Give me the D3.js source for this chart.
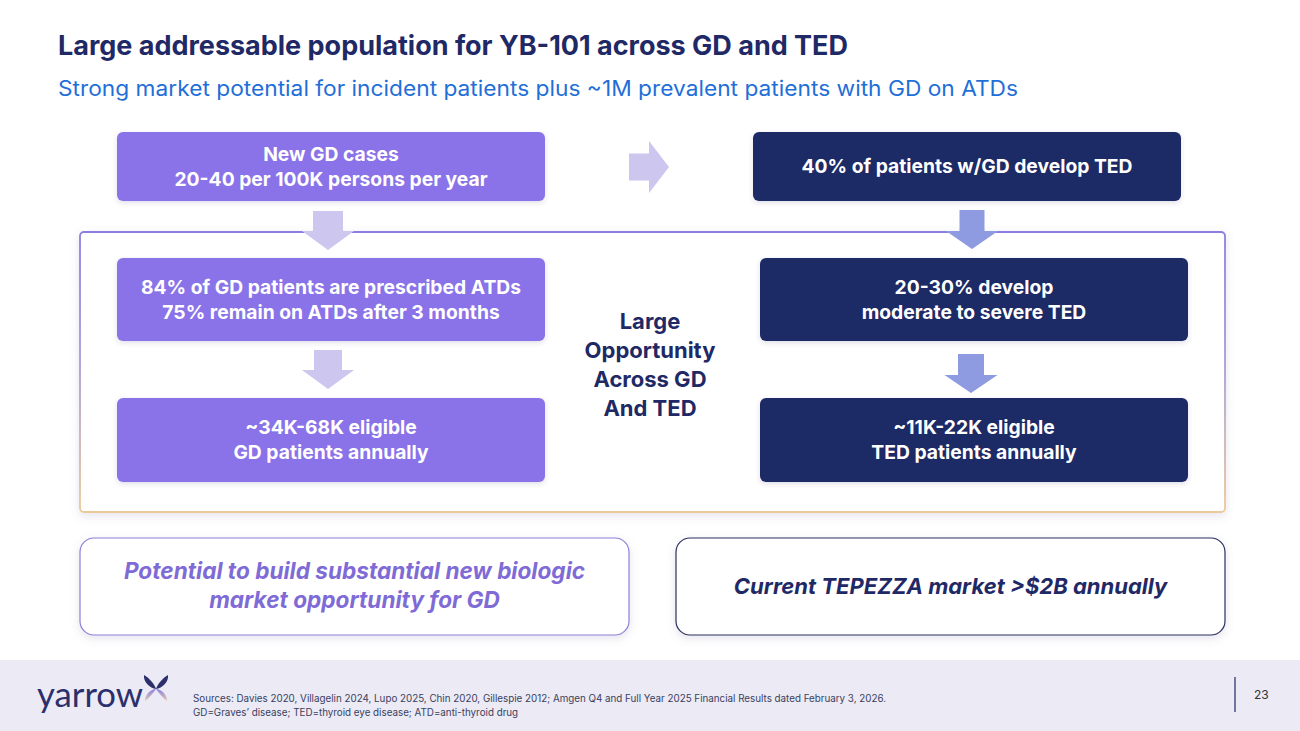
<!DOCTYPE html>
<html>
<head>
<meta charset="utf-8">
<script src="https://cdn.jsdelivr.net/npm/d3@7"></script>
<style>
  html, body { margin: 0; padding: 0; background: #ffffff; }
  svg { display: block; font-family: Inter, Roboto, "Noto Sans", sans-serif; }
</style>
</head>
<body>
<div id="slide"></div>
<script>
// slide texts
const titleText = "Large addressable population for YB-101 across GD and TED";
const subtitleText = "Strong market potential for incident patients plus ~1M prevalent patients with GD on ATDs";
const gdSteps = [
  ["New GD cases", "20-40 per 100K persons per year"],
  ["84% of GD patients are prescribed ATDs", "75% remain on ATDs after 3 months"],
  ["~34K-68K eligible", "GD patients annually"]
];
const tedSteps = [
  ["40% of patients w/GD develop TED"],
  ["20-30% develop", "moderate to severe TED"],
  ["~11K-22K eligible", "TED patients annually"]
];
const centerLines = ["Large", "Opportunity", "Across GD", "And TED"];
const takeaways = [
  ["Potential to build substantial new biologic", "market opportunity for GD"],
  ["Current TEPEZZA market >$2B annually"]
];
const sourceLines = [
  "Sources: Davies 2020, Villagelin 2024, Lupo 2025, Chin 2020, Gillespie 2012;  Amgen Q4 and Full Year 2025 Financial Results dated February 3, 2026.",
  "GD=Graves\u2019 disease; TED=thyroid eye disease; ATD=anti-thyroid drug"
];
const pageNumber = "23";

const W = 1300, H = 731;
const navy = "#1f2966", purple = "#8a73e8";

const svg = d3.select("#slide").append("svg")
  .attr("width", W)
  .attr("height", H);

const defs = svg.append("defs");
defs.append("filter").attr("id", "shadow")
  .attr("x", "-10%").attr("y", "-10%").attr("width", "120%").attr("height", "130%")
  .append("feDropShadow")
  .attr("dx", 0).attr("dy", 3).attr("stdDeviation", 4)
  .attr("flood-color", "#6b6f9a").attr("flood-opacity", 0.18);
defs.append("filter").attr("id", "softShadow")
  .attr("x", "-5%").attr("y", "-10%").attr("width", "110%").attr("height", "130%")
  .append("feDropShadow")
  .attr("dx", 0).attr("dy", 2).attr("stdDeviation", 2.5)
  .attr("flood-color", "#3a3f7a").attr("flood-opacity", 0.16);
const frameGrad = defs.append("linearGradient").attr("id", "frameGrad")
  .attr("x1", 0).attr("y1", 0).attr("x2", 0).attr("y2", 1);
frameGrad.append("stop").attr("offset", "0%").attr("stop-color", "#8a7fe0");
frameGrad.append("stop").attr("offset", "45%").attr("stop-color", "#a99ad8");
frameGrad.append("stop").attr("offset", "100%").attr("stop-color", "#ebc998");
const wingGrad = defs.append("linearGradient").attr("id", "wingGrad")
  .attr("x1", 0).attr("y1", 0).attr("x2", 0).attr("y2", 1);
wingGrad.append("stop").attr("offset", "0%").attr("stop-color", "#8d7fe6");
wingGrad.append("stop").attr("offset", "100%").attr("stop-color", "#e7c9a8");

// title block
svg.append("text")
  .text(titleText)
  .attr("x", 58).attr("y", 55)
  .attr("font-size", 27).attr("font-weight", 700)
  .attr("fill", navy)
  .attr("textLength", 790).attr("lengthAdjust", "spacingAndGlyphs");
svg.append("text")
  .text(subtitleText)
  .attr("x", 58).attr("y", 96)
  .attr("font-size", 21)
  .attr("fill", "#1f6fd8")
  .attr("textLength", 960).attr("lengthAdjust", "spacingAndGlyphs");

// layout
const col = d3.scaleOrdinal().domain(["gd", "ted"]).range([117, 760]);
const rows = [
  {y: 132, h: 69},
  {y: 258, h: 83},
  {y: 398, h: 84}
];
const boxW = 428;

// frame around the eligible population
svg.append("rect")
  .attr("x", 80).attr("y", 232)
  .attr("width", 1145).attr("height", 280)
  .attr("rx", 4)
  .attr("fill", "#ffffff")
  .attr("stroke", "url(#frameGrad)")
  .attr("stroke-width", 1.8)
  .attr("filter", "url(#shadow)");

const drawBoxes = (steps, key, fill, xShift) => {
  const g = svg.append("g").attr("class", "boxes-" + key);
  steps.forEach((lines, i) => {
    const r = rows[i];
    const x = col(key) + (i === 0 ? xShift : 0);
    g.append("rect")
      .attr("x", x).attr("y", r.y)
      .attr("width", boxW).attr("height", r.h)
      .attr("rx", 6)
      .attr("fill", fill)
      .attr("filter", "url(#softShadow)");
    const cy = r.y + r.h / 2;
    const lh = 25;
    lines.forEach((t, j) => {
      g.append("text")
        .text(t)
        .attr("x", x + boxW / 2)
        .attr("y", cy + (j - (lines.length - 1) / 2) * lh)
        .attr("dy", "0.35em")
        .attr("text-anchor", "middle")
        .attr("font-size", 19.3).attr("font-weight", 700)
        .attr("fill", "#ffffff");
    });
  });
};
drawBoxes(gdSteps, "gd", purple, 0);
drawBoxes(tedSteps, "ted", navy, -7);

// arrows
const downArrow = (cx, y0, y1, shaftW, headW, headH, fill) => {
  const p = d3.path();
  const yh = y1 - headH;
  p.moveTo(cx - shaftW / 2, y0);
  p.lineTo(cx + shaftW / 2, y0);
  p.lineTo(cx + shaftW / 2, yh);
  p.lineTo(cx + headW / 2, yh);
  p.lineTo(cx, y1);
  p.lineTo(cx - headW / 2, yh);
  p.lineTo(cx - shaftW / 2, yh);
  p.closePath();
  svg.append("path").attr("d", p.toString()).attr("fill", fill);
};
const rightArrow = (x0, x1, cy, shaftH, headH, headW, fill) => {
  const p = d3.path();
  const xh = x1 - headW;
  p.moveTo(x0, cy - shaftH / 2);
  p.lineTo(xh, cy - shaftH / 2);
  p.lineTo(xh, cy - headH / 2);
  p.lineTo(x1, cy);
  p.lineTo(xh, cy + headH / 2);
  p.lineTo(xh, cy + shaftH / 2);
  p.lineTo(x0, cy + shaftH / 2);
  p.closePath();
  svg.append("path").attr("d", p.toString()).attr("fill", fill);
};
rightArrow(629, 669, 167, 27, 52, 20, "#cdc6ee");
downArrow(328, 211, 250, 30, 52, 19, "#cdc6ee");
downArrow(328, 350, 389, 28, 52, 19, "#cdc6ee");
downArrow(972, 210, 249, 25, 52, 18, "#8e9be0");
downArrow(971, 354, 393, 26, 53, 18, "#8e9be0");

// centre label
const centerG = svg.append("g");
centerLines.forEach((t, i) => {
  centerG.append("text")
    .text(t)
    .attr("x", 650)
    .attr("y", 321 + i * 29)
    .attr("dy", "0.35em")
    .attr("text-anchor", "middle")
    .attr("font-size", 22).attr("font-weight", 700)
    .attr("fill", navy);
});

// takeaway boxes
const takeX = [80, 676];
const takeStroke = ["#8b80d8", "#2a2f5e"];
const takeFill = ["#7f6bd6", navy];
const takeSize = [22.6, 22];
takeaways.forEach((lines, i) => {
  svg.append("rect")
    .attr("x", takeX[i]).attr("y", 538)
    .attr("width", 549).attr("height", 97)
    .attr("rx", 14)
    .attr("fill", "#ffffff")
    .attr("stroke", takeStroke[i])
    .attr("stroke-width", 1.2)
    .attr("filter", "url(#shadow)");
  lines.forEach((t, j) => {
    svg.append("text")
      .text(t)
      .attr("x", takeX[i] + 549 / 2)
      .attr("y", 586 + (j - (lines.length - 1) / 2) * 29)
      .attr("dy", "0.35em")
      .attr("text-anchor", "middle")
      .attr("font-size", takeSize[i]).attr("font-weight", 700).attr("font-style", "italic")
      .attr("fill", takeFill[i]);
  });
});

// footer band
svg.append("rect")
  .attr("x", 0).attr("y", 660)
  .attr("width", W).attr("height", H - 660)
  .attr("fill", "#ebeaf5");

svg.append("text")
  .text("yarrow")
  .attr("x", 37).attr("y", 707)
  .attr("font-family", "Lato, 'Open Sans', sans-serif")
  .attr("font-size", 35)
  .attr("fill", "#2b2f6b")
  .attr("textLength", 106).attr("lengthAdjust", "spacingAndGlyphs");
// butterfly mark
const logo = svg.append("g").attr("transform", "translate(156,689)");
logo.append("path")
  .attr("d", "M0,0 C-2,-6 -7,-11 -12,-14 C-13,-7 -6,-1 0,0 Z")
  .attr("fill", "#2b2f6b");
logo.append("path")
  .attr("d", "M0,0 C2,-6 7,-11 12,-14 C13,-7 6,-1 0,0 Z")
  .attr("fill", "#2b2f6b");
logo.append("path")
  .attr("d", "M0,0 C-3,4 -7,9 -11,12 C-11,5 -5,0 0,0 Z")
  .attr("fill", "url(#wingGrad)");
logo.append("path")
  .attr("d", "M0,0 C3,4 7,9 11,12 C11,5 5,0 0,0 Z")
  .attr("fill", "url(#wingGrad)");

sourceLines.forEach((t, i) => {
  svg.append("text")
    .text(t)
    .attr("x", 193)
    .attr("y", 702 + i * 14)
    .attr("font-size", 9.8)
    .attr("fill", "#3a3f5e");
});

svg.append("line")
  .attr("x1", 1235).attr("x2", 1235)
  .attr("y1", 677).attr("y2", 712)
  .attr("stroke", navy).attr("stroke-width", 1.2);
svg.append("text")
  .text(pageNumber)
  .attr("x", 1254).attr("y", 699)
  .attr("font-size", 12)
  .attr("fill", "#333333");
</script>
</body>
</html>
